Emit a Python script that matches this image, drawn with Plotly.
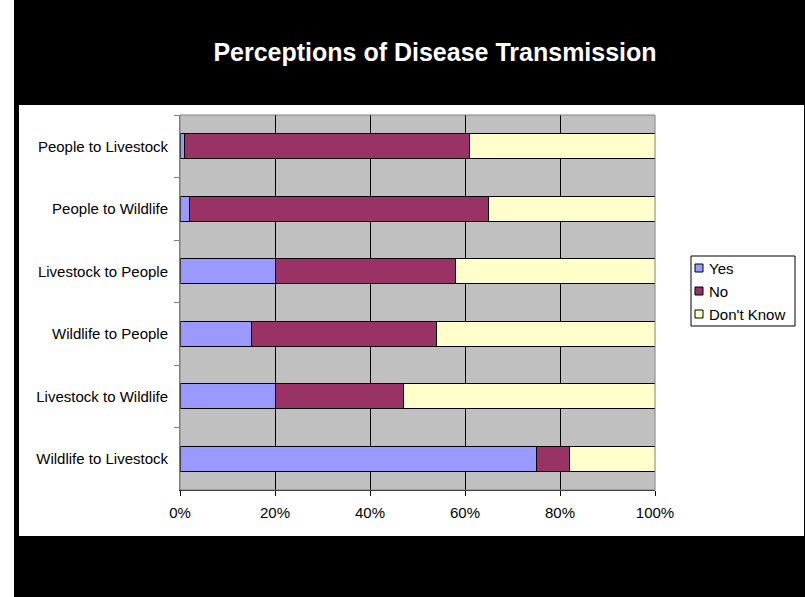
import plotly.graph_objects as go

# Survey responses (% of respondents), listed top to bottom as displayed
categories = [
    "People to Livestock",
    "People to Wildlife",
    "Livestock to People",
    "Wildlife to People",
    "Livestock to Wildlife",
    "Wildlife to Livestock",
]
yes_pct = [1, 2, 20, 15, 20, 75]
no_pct = [60, 63, 38, 39, 27, 7]
dont_know_pct = [39, 35, 42, 46, 53, 18]

series_names = ["Yes", "No", "Don't Know"]
series_colors = ["#9999FF", "#993366", "#FFFFCC"]
x_tick_vals = [0, 0.2, 0.4, 0.6, 0.8, 1.0]
x_tick_text = ["0%", "20%", "40%", "60%", "80%", "100%"]

W, H = 805, 597
ML, MR, MT, MB = 180, 150, 115, 107
PW, PH = W - ML - MR, H - MT - MB


def px(x):
    return (x - ML) / PW


def py(y):
    return (H - MB - y) / PH


FONT = "Liberation Sans, Arial, sans-serif"

fig = go.Figure()
for name, vals, col in zip(series_names, [yes_pct, no_pct, dont_know_pct], series_colors):
    fig.add_trace(go.Bar(
        y=categories,
        x=[v / 100 for v in vals],
        name=name,
        orientation="h",
        marker=dict(color=col, line=dict(color="black", width=1)),
        hoverinfo="name+x",
        showlegend=False,
    ))

# black frame around the white chart panel
frame = [
    (14, 0, 805, 105),
    (14, 536, 805, 597),
    (14, 105, 19, 536),
    (804, 105, 805, 536),
]
shapes = [
    dict(type="rect", xref="paper", yref="paper",
         x0=px(a), x1=px(c), y0=py(d), y1=py(b),
         fillcolor="black", line=dict(width=0), layer="below")
    for a, b, c, d in frame
]
# plot-area border
shapes.append(dict(type="rect", xref="paper", yref="paper", x0=0, x1=1, y0=0, y1=1,
                   line=dict(color="#808080", width=1), fillcolor="rgba(0,0,0,0)",
                   layer="above"))

# legend box with keys and labels
LEG_X0, LEG_Y0, LEG_X1, LEG_Y1 = 691, 256, 795, 326
shapes.append(dict(type="rect", xref="paper", yref="paper",
                   x0=px(LEG_X0), x1=px(LEG_X1), y0=py(LEG_Y1), y1=py(LEG_Y0),
                   line=dict(color="black", width=1), fillcolor="white", layer="above"))
annotations = []
for i, (name, col) in enumerate(zip(series_names, series_colors)):
    cy = 268 + i * 23
    shapes.append(dict(type="rect", xref="paper", yref="paper",
                       x0=px(695), x1=px(703), y0=py(cy + 4), y1=py(cy - 4),
                       line=dict(color="black", width=1), fillcolor=col, layer="above"))
    annotations.append(dict(
        text=name, xref="paper", yref="paper", x=px(707), y=py(cy),
        xanchor="left", yanchor="middle", showarrow=False,
        font=dict(family=FONT, size=15, color="black"),
    ))

fig.update_layout(
    width=W, height=H,
    margin=dict(l=ML, r=MR, t=MT, b=MB, autoexpand=False),
    paper_bgcolor="white",
    plot_bgcolor="#C0C0C0",
    barmode="stack",
    bargap=0.6,
    showlegend=False,
    font=dict(family=FONT, size=15, color="black"),
    title=dict(
        text="<b>Perceptions of Disease Transmission</b>",
        font=dict(family=FONT, size=25, color="white"),
        x=435 / W, xanchor="center", xref="container",
        y=1 - 52 / H, yanchor="middle", yref="container",
    ),
    xaxis=dict(
        range=[0, 1],
        tickvals=x_tick_vals,
        ticktext=x_tick_text,
        showgrid=True, gridcolor="black", gridwidth=1,
        ticks="outside", ticklen=5, tickcolor="black",
        showline=True, linecolor="black", linewidth=1,
        zeroline=False,
        tickfont=dict(family=FONT, size=15, color="black"),
        ticklabelstandoff=4,
        fixedrange=True,
    ),
    yaxis=dict(
        categoryorder="array",
        categoryarray=categories,
        autorange="reversed",
        tickson="boundaries",
        ticks="outside", ticklen=5, tickcolor="#808080",
        showline=True, linecolor="#808080", linewidth=1,
        showgrid=False,
        tickfont=dict(family=FONT, size=15, color="black"),
        ticklabelstandoff=8,
        fixedrange=True,
    ),
    shapes=shapes,
    annotations=annotations,
)

fig.write_html("out.html")
